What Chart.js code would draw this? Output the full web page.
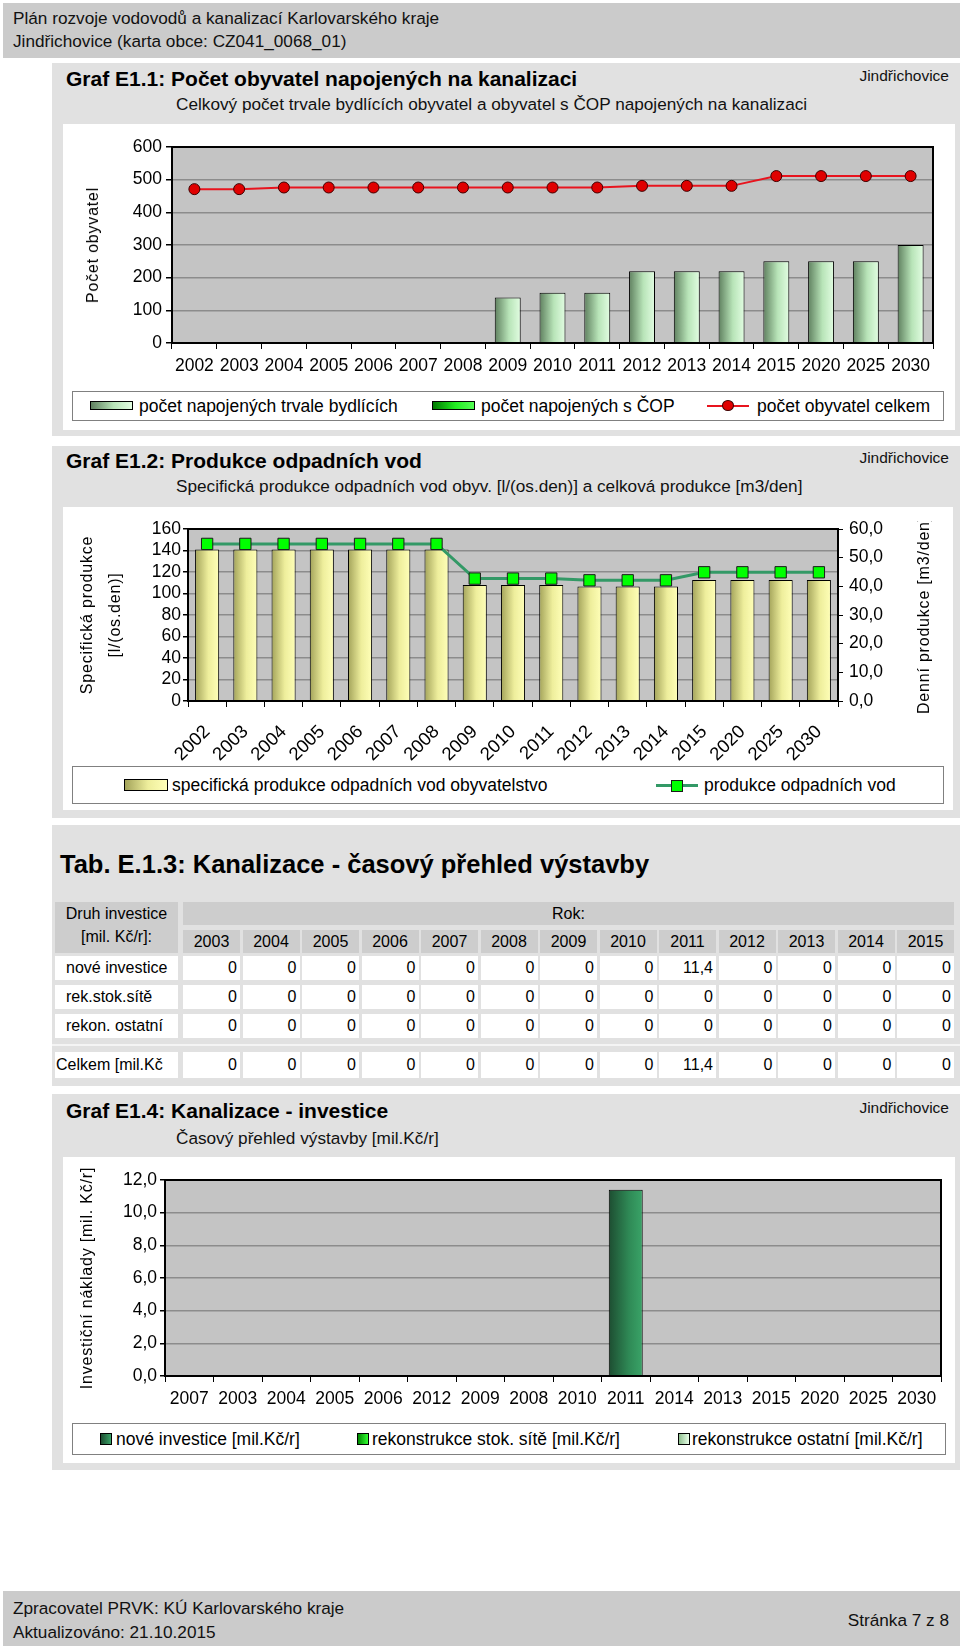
<!DOCTYPE html>
<html lang="cs">
<head>
<meta charset="utf-8">
<title>Jindřichovice – kanalizace</title>
<script src="https://cdn.jsdelivr.net/npm/chart.js@4.4.1/dist/chart.umd.min.js"></script>
<style>
body { margin:0; width:960px; height:1649px; position:relative; background:#fff; font-family:"Liberation Sans", Arial, sans-serif; color:#000; overflow:hidden; }
.a { position:absolute; white-space:nowrap; }
.bar { background:#cbcbcb; }
.sec { background:#e1e1e1; }
.wh { background:#fff; }
.t { font-size:17.2px; line-height:20px; color:#111; }
.j { font-size:15.5px; line-height:18px; color:#111; }
.h { font-size:21px; font-weight:bold; line-height:24px; }
.lg { background:#fff; border:1px solid #808080; box-sizing:border-box; }
.lt { font-size:17.5px; line-height:20px; }
.clip { position:absolute; overflow:hidden; }
.rot { position:absolute; white-space:nowrap; transform:translate(-50%,-50%) rotate(-90deg); font-size:16px; letter-spacing:0.8px; line-height:20px; }
.cell { position:absolute; box-sizing:border-box; font-size:16px; line-height:24px; white-space:nowrap; overflow:hidden; }
canvas { position:absolute; }
</style>
</head>
<body>

<!-- hlavicka -->
<div class="a bar" style="left:3px;top:3px;width:957px;height:55px"></div>
<div class="a t" style="left:13px;top:8px">Plán rozvoje vodovodů a kanalizací Karlovarského kraje</div>
<div class="a t" style="left:13px;top:31px">Jindřichovice (karta obce: CZ041_0068_01)</div>

<!-- Graf E1.1 -->
<div class="a sec" style="left:52px;top:63px;width:908px;height:373px"></div>
<div class="a h" style="left:66px;top:67px">Graf E1.1: Počet obyvatel napojených na kanalizaci</div>
<div class="a j" style="right:11px;top:67px">Jindřichovice</div>
<div class="a t" style="left:176px;top:94px">Celkový počet trvale bydlících obyvatel a obyvatel s ČOP napojených na kanalizaci</div>
<div class="a wh" style="left:63px;top:124px;width:892px;height:306px"></div>
<canvas id="c1" width="892" height="262" style="left:63px;top:124px"></canvas>
<div class="rot" style="left:93px;top:245px">Počet obyvatel</div>
<div class="a lg" style="left:72px;top:391px;width:872px;height:30px"></div>
<div class="a" style="left:90px;top:401px;width:43px;height:9px;border:1px solid #000;box-sizing:border-box;background:linear-gradient(to right,#5f805f,#b8e4b8 55%,#e2fde2)"></div>
<div class="a lt" style="left:139px;top:396px">počet napojených trvale bydlících</div>
<div class="a" style="left:432px;top:401px;width:43px;height:9px;border:1px solid #000;box-sizing:border-box;background:linear-gradient(to right,#007a00,#22ee22 55%,#55ff55)"></div>
<div class="a lt" style="left:481px;top:396px">počet napojených s ČOP</div>
<div class="a" style="left:707px;top:405px;width:42px;height:2px;background:#e8141e"></div>
<div class="a" style="left:722px;top:400px;width:12px;height:11px;border-radius:50%;background:#e00000;border:1px solid #400000;box-sizing:border-box"></div>
<div class="a lt" style="left:757px;top:396px">počet obyvatel celkem</div>

<!-- Graf E1.2 -->
<div class="a sec" style="left:52px;top:446px;width:908px;height:372px"></div>
<div class="a h" style="left:66px;top:449px">Graf E1.2: Produkce odpadních vod</div>
<div class="a j" style="right:11px;top:449px">Jindřichovice</div>
<div class="a t" style="left:176px;top:476px">Specifická produkce odpadních vod obyv. [l/(os.den)] a celková produkce [m3/den]</div>
<div class="a wh" style="left:63px;top:507px;width:890px;height:303px"></div>
<canvas id="c2" width="890" height="258" style="left:63px;top:507px"></canvas>
<div class="rot" style="left:87px;top:615px">Specifická produkce</div>
<div class="rot" style="left:115px;top:615px">[l/(os.den)]</div>
<div class="clip" style="left:900px;top:521px;width:53px;height:220px">
  <div class="rot" style="left:24px;top:94px">Denní produkce [m3/den]</div>
</div>
<div class="a lg" style="left:72px;top:766px;width:872px;height:38px"></div>
<div class="a" style="left:124px;top:779px;width:44px;height:12px;border:1px solid #000;box-sizing:border-box;background:linear-gradient(to right,#a3a35a,#eeee9c 55%,#ffffb8)"></div>
<div class="a lt" style="left:172px;top:775px">specifická produkce odpadních vod obyvatelstvo</div>
<div class="a" style="left:656px;top:784px;width:42px;height:3px;background:#339966"></div>
<div class="a" style="left:671px;top:780px;width:12px;height:12px;background:#00ff00;border:1px solid #1a1a1a;box-sizing:border-box"></div>
<div class="a lt" style="left:704px;top:775px">produkce odpadních vod</div>

<!-- Tab. E.1.3 -->
<div class="a sec" style="left:52px;top:825px;width:908px;height:261px"></div>
<div class="a" style="left:60px;top:849px;font-size:25.5px;font-weight:bold;line-height:30px">Tab. E.1.3: Kanalizace - časový přehled výstavby</div>
<div class="a" style="left:52px;top:1044px;width:908px;height:2px;background:#f4f4f4"></div>

<!-- Graf E1.4 -->
<div class="a sec" style="left:52px;top:1094px;width:908px;height:376px"></div>
<div class="a h" style="left:66px;top:1099px">Graf E1.4: Kanalizace - investice</div>
<div class="a j" style="right:11px;top:1099px">Jindřichovice</div>
<div class="a t" style="left:176px;top:1128px">Časový přehled výstavby [mil.Kč/r]</div>
<div class="a wh" style="left:63px;top:1157px;width:892px;height:306px"></div>
<canvas id="c3" width="892" height="265" style="left:63px;top:1157px"></canvas>
<div class="clip" style="left:63px;top:1168px;width:50px;height:240px">
  <div class="rot" style="left:24px;top:110px">Investiční náklady [mil. Kč/r]</div>
</div>
<div class="a lg" style="left:72px;top:1423px;width:874px;height:32px"></div>
<div class="a" style="left:100px;top:1433px;width:12px;height:12px;border:1px solid #000;box-sizing:border-box;background:linear-gradient(to right,#1d4d31,#3aa468)"></div>
<div class="a lt" style="left:116px;top:1429px">nové investice [mil.Kč/r]</div>
<div class="a" style="left:357px;top:1433px;width:12px;height:12px;border:1px solid #000;box-sizing:border-box;background:linear-gradient(to right,#008800,#33ff33)"></div>
<div class="a lt" style="left:372px;top:1429px">rekonstrukce stok. sítě [mil.Kč/r]</div>
<div class="a" style="left:678px;top:1433px;width:12px;height:12px;border:1px solid #000;box-sizing:border-box;background:linear-gradient(to right,#8fbf8f,#e8ffe8)"></div>
<div class="a lt" style="left:692px;top:1429px">rekonstrukce ostatní [mil.Kč/r]</div>

<!-- paticka -->
<div class="a bar" style="left:3px;top:1591px;width:957px;height:55px"></div>
<div class="a t" style="left:13px;top:1598px">Zpracovatel PRVK: KÚ Karlovarského kraje</div>
<div class="a t" style="left:13px;top:1622px">Aktualizováno: 21.10.2015</div>
<div class="a t" style="right:11px;top:1610px">Stránka 7 z 8</div>

<script>
// Graf E1.1
const years1 = ['2002','2003','2004','2005','2006','2007','2008','2009','2010','2011','2012','2013','2014','2015','2020','2025','2030'];
const napojeniTrvale = [0, 0, 0, 0, 0, 0, 0, 139, 154, 154, 220, 220, 220, 250, 250, 250, 300];
const napojeniCOP = [0, 0, 0, 0, 0, 0, 0, 0, 0, 0, 0, 0, 0, 0, 0, 0, 0];
const obyvatelCelkem = [471, 471, 476, 476, 476, 476, 476, 476, 476, 476, 481, 481, 481, 511, 511, 511, 511];

// Graf E1.2
const years2 = ['2002','2003','2004','2005','2006','2007','2008','2009','2010','2011','2012','2013','2014','2015','2020','2025','2030'];
const specifickaProdukce = [141, 141, 141, 141, 141, 141, 141, 108, 108, 108, 106.5, 106.5, 106.5, 112.5, 112.5, 112.5, 112.5];
const produkceVod = [54.8, 54.8, 54.8, 54.8, 54.8, 54.8, 54.8, 42.7, 42.7, 42.7, 42.1, 42.1, 42.1, 44.9, 44.9, 44.9, 44.9];

// Tab. E.1.3
const tabYears = ['2003','2004','2005','2006','2007','2008','2009','2010','2011','2012','2013','2014','2015'];
const tabRows = ['nové investice', 'rek.stok.sítě', 'rekon. ostatní'];
const tabNove = [0, 0, 0, 0, 0, 0, 0, 0, 11.4, 0, 0, 0, 0];
const tabRekStok = [0, 0, 0, 0, 0, 0, 0, 0, 0, 0, 0, 0, 0];
const tabRekOst = [0, 0, 0, 0, 0, 0, 0, 0, 0, 0, 0, 0, 0];
const tabCelkem = [0, 0, 0, 0, 0, 0, 0, 0, 11.4, 0, 0, 0, 0];

// Graf E1.4
const years4 = ['2007','2003','2004','2005','2006','2012','2009','2008','2010','2011','2014','2013','2015','2020','2025','2030'];
const noveInvestice = [0, 0, 0, 0, 0, 0, 0, 0, 0, 11.4, 0, 0, 0, 0, 0, 0];
const rekStokSite = [0, 0, 0, 0, 0, 0, 0, 0, 0, 0, 0, 0, 0, 0, 0, 0];
const rekOstatni = [0, 0, 0, 0, 0, 0, 0, 0, 0, 0, 0, 0, 0, 0, 0, 0];

const PLOT_BG = '#c4c4c4';
const GRID = '#8c8c8c';

function fmt1(v) {
    return v === 0 ? '0' : v.toFixed(1).replace('.', ',');
}

// tabulka
function cell(x, y, w, h, text, bg, align, pad) {
    const d = document.createElement('div');
    d.className = 'cell';
    d.style.left = x + 'px';
    d.style.top = y + 'px';
    d.style.width = w + 'px';
    d.style.height = h + 'px';
    d.style.background = bg;
    d.style.textAlign = align;
    if (pad) d.style.padding = pad;
    d.textContent = text;
    document.body.appendChild(d);
    return d;
}

const colX = tabYears.map((y, i) => 183 + i * 59.5);
const colW = 57;
const HDR = '#cdcdcd';
const druh = cell(55, 902, 123, 51, '', HDR, 'center');
druh.innerHTML = 'Druh investice<br>[mil. Kč/r]:';
druh.style.lineHeight = '23px';
cell(183, 902, colX[colX.length - 1] + colW - 183, 23, 'Rok:', HDR, 'center');
tabYears.forEach((y, i) => cell(colX[i], 930, colW, 23, y, HDR, 'center'));

const rowTops = [956, 985, 1014];
[tabNove, tabRekStok, tabRekOst].forEach((row, r) => {
    cell(55, rowTops[r], 123, 24, tabRows[r], '#fff', 'left', '0 0 0 11px');
    row.forEach((v, i) => cell(colX[i], rowTops[r], colW, 24, fmt1(v), '#fff', 'right', '0 3px 0 0'));
});
cell(55, 1052, 123, 26, 'Celkem [mil.Kč', '#fff', 'left', '1px 0 0 1px');
tabCelkem.forEach((v, i) => cell(colX[i], 1052, colW, 26, fmt1(v), '#fff', 'right', '1px 3px 0 0'));

// grafy
Chart.defaults.font.family = '"Liberation Sans", Arial, sans-serif';
Chart.defaults.font.size = 17.5;
Chart.defaults.color = '#000';
Chart.defaults.animation = false;
Chart.defaults.plugins.legend.display = false;
Chart.defaults.plugins.tooltip.enabled = false;

const plotFrame = {
    id: 'plotFrame',
    beforeDraw(chart) {
        const a = chart.chartArea;
        const ctx = chart.ctx;
        ctx.save();
        ctx.fillStyle = PLOT_BG;
        ctx.fillRect(a.left, a.top, a.right - a.left, a.bottom - a.top);
        ctx.restore();
    },
    afterDraw(chart) {
        const a = chart.chartArea;
        const ctx = chart.ctx;
        ctx.save();
        ctx.strokeStyle = '#000';
        ctx.lineWidth = 2;
        ctx.strokeRect(a.left, a.top, a.right - a.left, a.bottom - a.top);
        ctx.restore();
    }
};

function barFill(stops, frac, fallback) {
    return function (c) {
        const x = c.chart.scales.x;
        if (!x || !x.width || c.dataIndex === undefined) return fallback;
        const center = x.getPixelForValue(c.dataIndex);
        const half = x.width / c.chart.data.labels.length * frac / 2;
        if (!isFinite(center) || !isFinite(half)) return fallback;
        const g = c.chart.ctx.createLinearGradient(center - half, 0, center + half, 0);
        stops.forEach(s => g.addColorStop(s[0], s[1]));
        return g;
    };
}

function xAxis(height, rotation, padding, size) {
    return {
        stacked: true,
        grid: { offset: true, drawOnChartArea: false, tickLength: 6, tickColor: '#000' },
        border: { color: '#000', width: 2 },
        ticks: { autoSkip: false, minRotation: rotation, maxRotation: rotation, padding: padding, font: { size: size } },
        afterFit: s => { s.height = height; }
    };
}

function yAxis(max, step, width, tickLen, pad, format) {
    return {
        stacked: true,
        min: 0,
        max: max,
        ticks: { stepSize: step, autoSkip: false, padding: pad, callback: format },
        grid: { color: GRID, lineWidth: 1.5, tickColor: '#000', tickLength: tickLen },
        border: { color: '#000', width: 2 },
        afterFit: s => { s.width = width; }
    };
}

const FRAC1 = 0.58;
new Chart(document.getElementById('c1'), {
    type: 'bar',
    data: {
        labels: years1,
        datasets: [
            {
                type: 'line',
                label: 'počet obyvatel celkem',
                data: obyvatelCelkem,
                stack: 'celkem',
                order: 0,
                borderColor: '#e8141e',
                borderWidth: 2,
                tension: 0,
                pointRadius: 5.5,
                pointBackgroundColor: '#e00000',
                pointBorderColor: '#400000',
                pointBorderWidth: 1
            },
            {
                label: 'počet napojených trvale bydlících',
                data: napojeniTrvale,
                stack: 'napojeni',
                order: 1,
                backgroundColor: barFill([[0, '#5f805f'], [0.55, '#b8e4b8'], [1, '#e2fde2']], FRAC1, '#b8e4b8'),
                borderColor: '#000',
                borderWidth: 1,
                categoryPercentage: 1,
                barPercentage: FRAC1
            },
            {
                label: 'počet napojených s ČOP',
                data: napojeniCOP,
                stack: 'napojeni',
                order: 1,
                backgroundColor: barFill([[0, '#007a00'], [0.55, '#22ee22'], [1, '#55ff55']], FRAC1, '#22ee22'),
                borderColor: '#000',
                borderWidth: 1,
                categoryPercentage: 1,
                barPercentage: FRAC1
            }
        ]
    },
    options: {
        responsive: false,
        layout: { padding: { top: 23, right: 22, left: 0, bottom: 0 } },
        scales: {
            x: xAxis(43, 0, 7, 17.5),
            y: yAxis(600, 100, 109, 6, 4)
        }
    },
    plugins: [plotFrame]
});

const FRAC2 = 0.63;
const y1Axis = yAxis(60, 10, 115, 5, 6, v => v.toFixed(1).replace('.', ','));
y1Axis.position = 'right';
y1Axis.stacked = false;
y1Axis.grid = { drawOnChartArea: false, tickColor: '#000', tickLength: 5 };
new Chart(document.getElementById('c2'), {
    type: 'bar',
    data: {
        labels: years2,
        datasets: [
            {
                type: 'line',
                label: 'produkce odpadních vod',
                data: produkceVod,
                yAxisID: 'y1',
                order: 0,
                borderColor: '#339966',
                borderWidth: 3,
                tension: 0,
                pointStyle: 'rect',
                pointRadius: 8,
                pointBackgroundColor: '#00ff00',
                pointBorderColor: '#1a1a1a',
                pointBorderWidth: 1
            },
            {
                label: 'specifická produkce odpadních vod obyvatelstvo',
                data: specifickaProdukce,
                yAxisID: 'y',
                order: 1,
                backgroundColor: barFill([[0, '#a3a35a'], [0.55, '#eeee9c'], [1, '#ffffb8']], FRAC2, '#eeee9c'),
                borderColor: '#000',
                borderWidth: 1,
                categoryPercentage: 1,
                barPercentage: FRAC2
            }
        ]
    },
    options: {
        responsive: false,
        layout: { padding: { top: 22, right: 0, left: 0, bottom: 0 } },
        scales: {
            x: xAxis(64, 45, 14, 18.5),
            y: yAxis(160, 20, 125, 5, 2),
            y1: y1Axis
        }
    },
    plugins: [plotFrame]
});

const FRAC4 = 0.7;
new Chart(document.getElementById('c3'), {
    type: 'bar',
    data: {
        labels: years4,
        datasets: [
            {
                label: 'nové investice [mil.Kč/r]',
                data: noveInvestice,
                backgroundColor: barFill([[0, '#1d4d31'], [0.6, '#2f8a56'], [1, '#3aa468']], FRAC4, '#2f8a56'),
                borderColor: '#000',
                borderWidth: 1,
                categoryPercentage: 1,
                barPercentage: FRAC4
            },
            {
                label: 'rekonstrukce stok. sítě [mil.Kč/r]',
                data: rekStokSite,
                backgroundColor: barFill([[0, '#008800'], [1, '#33ff33']], FRAC4, '#22cc22'),
                borderColor: '#000',
                borderWidth: 1,
                categoryPercentage: 1,
                barPercentage: FRAC4
            },
            {
                label: 'rekonstrukce ostatní [mil.Kč/r]',
                data: rekOstatni,
                backgroundColor: barFill([[0, '#8fbf8f'], [1, '#e8ffe8']], FRAC4, '#c0e8c0'),
                borderColor: '#000',
                borderWidth: 1,
                categoryPercentage: 1,
                barPercentage: FRAC4
            }
        ]
    },
    options: {
        responsive: false,
        layout: { padding: { top: 23, right: 14, left: 0, bottom: 0 } },
        scales: {
            x: xAxis(46, 0, 7, 17.5),
            y: yAxis(12, 2, 102, 5, 3, v => v.toFixed(1).replace('.', ','))
        }
    },
    plugins: [plotFrame]
});
</script>
</body>
</html>
